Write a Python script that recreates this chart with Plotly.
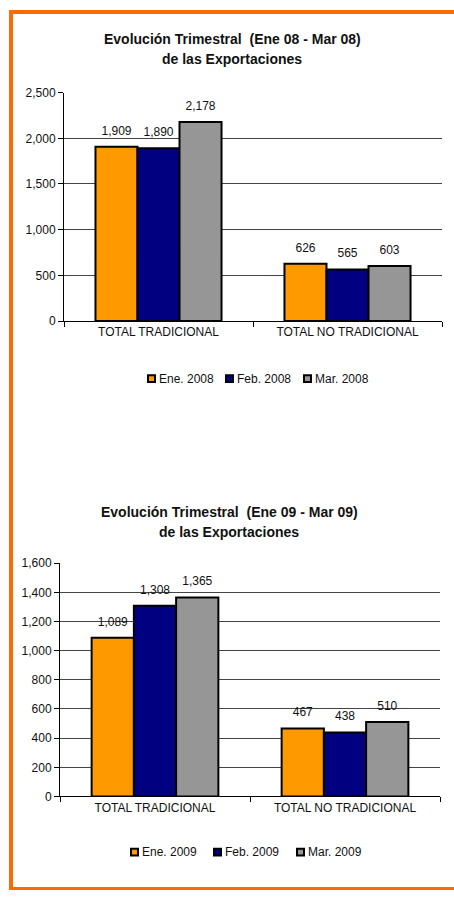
import plotly.graph_objects as go

W, H = 454, 897

# ---------------- data ----------------
categories = ["TOTAL TRADICIONAL", "TOTAL NO TRADICIONAL"]

series_2008 = ["Ene. 2008", "Feb. 2008", "Mar. 2008"]
ene_2008 = [1909, 626]
feb_2008 = [1890, 565]
mar_2008 = [2178, 603]

series_2009 = ["Ene. 2009", "Feb. 2009", "Mar. 2009"]
ene_2009 = [1089, 467]
feb_2009 = [1308, 438]
mar_2009 = [1365, 510]

title_2008 = ["Evolución Trimestral\u00a0\u00a0(Ene 08 - Mar 08)", "de las Exportaciones"]
title_2009 = ["Evolución Trimestral\u00a0\u00a0(Ene 09 - Mar 09)", "de las Exportaciones"]

colors = ["#FF9900", "#000080", "#969696"]
FONT = "Arial, 'Liberation Sans', sans-serif"
TXT = "#111111"


def px_x(x):
    return x / W


def px_y(y):
    return 1 - y / H


fig = go.Figure()

charts = [
    dict(names=series_2008, vals=[ene_2008, feb_2008, mar_2008], xa="x", ya="y"),
    dict(names=series_2009, vals=[ene_2009, feb_2009, mar_2009], xa="x2", ya="y2"),
]

for ci, ch in enumerate(charts):
    for i, (nm, v) in enumerate(zip(ch["names"], ch["vals"])):
        fig.add_trace(go.Bar(
            x=categories, y=v, name=nm, xaxis=ch["xa"], yaxis=ch["ya"],
            marker=dict(color=colors[i], line=dict(color="black", width=2)),
            offsetgroup=str(i), alignmentgroup=f"a{ci}",
            showlegend=False, hoverinfo="skip",
        ))
    for i, (nm, v) in enumerate(zip(ch["names"], ch["vals"])):
        fig.add_trace(go.Scatter(
            x=categories, y=v, xaxis=ch["xa"], yaxis=ch["ya"],
            mode="markers+text", text=[f"{a:,}" for a in v],
            textposition="top center",
            textfont=dict(family=FONT, size=12, color=TXT),
            marker=dict(size=13, color="rgba(0,0,0,0)"),
            offsetgroup=str(i), alignmentgroup=f"s{ci}",
            showlegend=False, hoverinfo="skip", cliponaxis=False,
        ))

axis_common_x = dict(
    type="category", showline=True, linecolor="black", linewidth=1,
    ticks="outside", tickson="boundaries", ticklen=5, tickcolor="black",
    showgrid=False, tickfont=dict(family=FONT, size=12, color=TXT),
    fixedrange=True,
)
axis_common_y = dict(
    showline=True, linecolor="black", linewidth=1,
    ticks="outside", ticklen=5, tickcolor="black",
    showgrid=True, gridcolor="#444444", gridwidth=1, zeroline=False,
    tickformat=",d", tickfont=dict(family=FONT, size=12, color=TXT),
    fixedrange=True,
)

fig.update_layout(
    width=W, height=H,
    margin=dict(l=0, r=0, t=0, b=0),
    paper_bgcolor="white", plot_bgcolor="white",
    barmode="group", bargap=0.333, bargroupgap=0,
    scattermode="group", scattergap=0.333,
    font=dict(family=FONT, size=12, color=TXT),
    xaxis=dict(axis_common_x, domain=[px_x(64), px_x(442)], anchor="y"),
    yaxis=dict(axis_common_y, domain=[px_y(319), px_y(87)], range=[0, 2500], dtick=500, anchor="x"),
    xaxis2=dict(axis_common_x, domain=[px_x(60), px_x(440)], anchor="y2"),
    yaxis2=dict(axis_common_y, domain=[px_y(802), px_y(565)], range=[0, 1600], dtick=200, anchor="x2"),
    showlegend=False,
)

# titles
for (line1, line2), cx, y1, y2 in [(title_2008, 232, 33, 53), (title_2009, 229, 513, 533)]:
    for txt, yy in [(line1, y1), (line2, y2)]:
        fig.add_annotation(text=f"<b>{txt}</b>", x=px_x(cx), y=px_y(yy), xref="paper", yref="paper",
                           showarrow=False, xanchor="center", yanchor="middle",
                           font=dict(family=FONT, size=14, color=TXT))

# legends (key square + label), one row per chart
for names, x_start, step, cy in [(series_2008, 147, 78, 377.5), (series_2009, 130, 83, 858.5)]:
    for i, nm in enumerate(names):
        x0 = x_start + i * step
        fig.add_shape(type="rect", xref="paper", yref="paper",
                      x0=px_x(x0 + 1), x1=px_x(x0 + 8), y0=px_y(cy - 3.5), y1=px_y(cy + 3.5),
                      fillcolor=colors[i], line=dict(color="black", width=2))
        fig.add_annotation(text=nm, x=px_x(x0 + 10), y=px_y(cy), xref="paper", yref="paper",
                           showarrow=False, xanchor="left", yanchor="middle",
                           font=dict(family=FONT, size=12, color=TXT))

# orange frame
ORANGE = "#FF6A00"
fig.add_shape(type="line", xref="paper", yref="paper", x0=px_x(9), x1=1, y0=px_y(5), y1=px_y(5),
              line=dict(color=ORANGE, width=4))
fig.add_shape(type="line", xref="paper", yref="paper", x0=px_x(11), x1=px_x(11), y0=px_y(3), y1=0,
              line=dict(color=ORANGE, width=4))
fig.add_shape(type="line", xref="paper", yref="paper", x0=px_x(9), x1=1, y0=px_y(895.5), y1=px_y(895.5),
              line=dict(color=ORANGE, width=3))

fig.write_html("out.html",
               config={"displayModeBar": False},
               post_script="document.body.style.margin='0px';document.body.style.overflow='hidden';")
